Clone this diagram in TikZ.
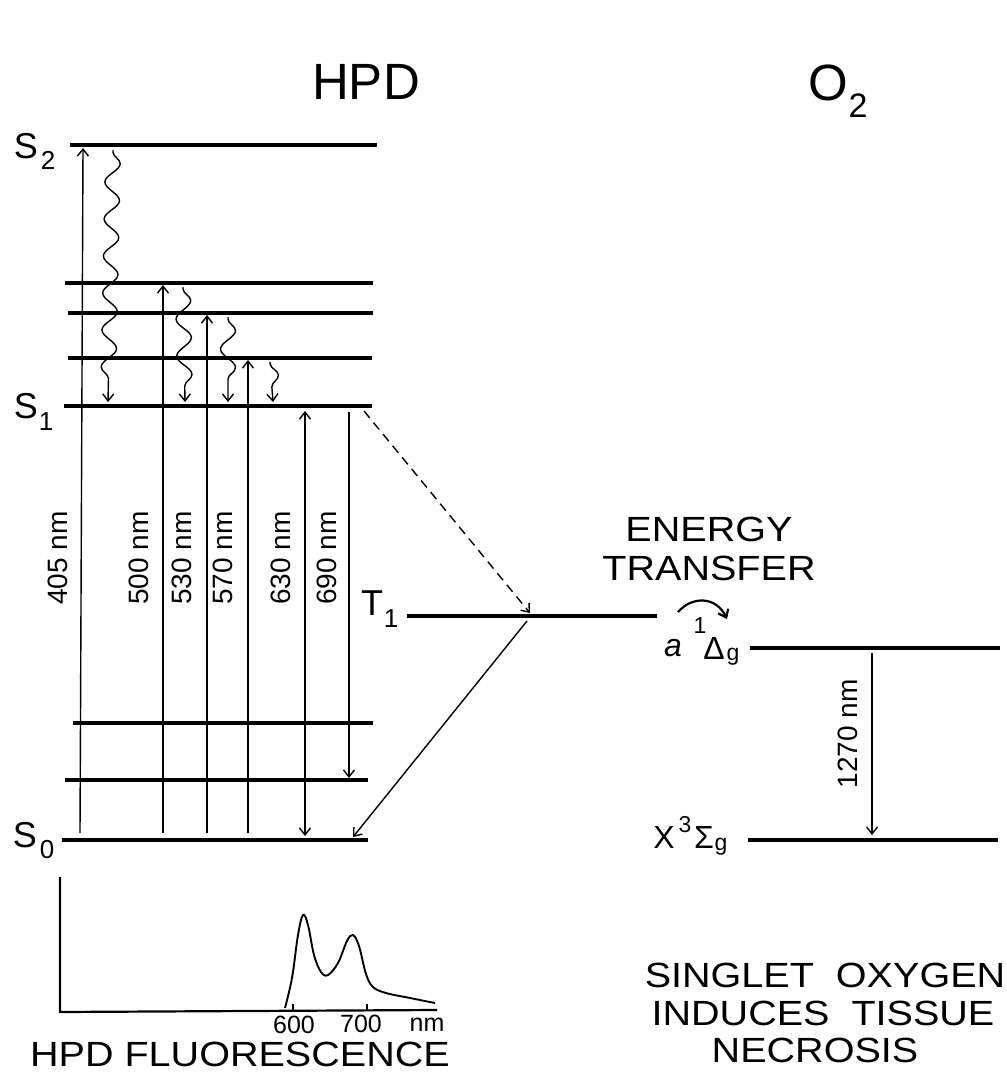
\documentclass[tikz,border=0pt]{standalone}
\usepackage{fontspec}
\usepackage{graphicx}
\setmainfont{Liberation Sans}
\usetikzlibrary{arrows.meta,decorations.pathmorphing}
\newcommand{\widetxt}[1]{\scalebox{1.13}[1]{#1}}
\begin{document}
\begin{tikzpicture}[x=1bp,y=-1bp,
  level/.style={line width=3.2bp},
  trans/.style={line width=1.4bp},
  >={Straight Barb[length=7bp,width=11bp]},
  wave/.style={line width=1.4bp, decorate, decoration={snake, segment length=37bp, amplitude=7.5bp, post length=7bp, pre length=2bp}},
  lab/.style={inner sep=0pt, font=\fontsize{36bp}{40bp}\selectfont},
  sublab/.style={inner sep=0pt, font=\fontsize{26bp}{28bp}\selectfont},
  nmlab/.style={inner sep=0pt, rotate=90, font=\fontsize{28bp}{32bp}\selectfont},
  titlelab/.style={inner sep=0pt, font=\fontsize{51bp}{56bp}\selectfont},
  caplab/.style={inner sep=0pt, font=\fontsize{35bp}{38bp}\selectfont},
  ticklab/.style={inner sep=0pt, anchor=base, font=\fontsize{25bp}{28bp}\selectfont},
  o2lab/.style={inner sep=0pt, font=\fontsize{32bp}{36bp}\selectfont},
  o2sub/.style={inner sep=0pt, font=\fontsize{23bp}{26bp}\selectfont},
]
\useasboundingbox[fill=white] (0,0) rectangle (1007,1072);

% ---- titles
\node[titlelab] (thpd) at (366,82) {HPD};
\node[titlelab] (to2) at (828,83) {O};
\node[inner sep=0pt, font=\fontsize{34bp}{36bp}\selectfont] (to2s) at (858,106) {2};

% ---- HPD levels
\coordinate (S2a) at (70,145);  \coordinate (S2b) at (377,145);
\coordinate (V3a) at (65,283);  \coordinate (V3b) at (373,283);
\coordinate (V2a) at (68,313);  \coordinate (V2b) at (373,313);
\coordinate (V1a) at (68,358);  \coordinate (V1b) at (372,358);
\coordinate (S1a) at (64,406);  \coordinate (S1b) at (372,406);
\coordinate (G2a) at (73,723);  \coordinate (G2b) at (373,723);
\coordinate (G1a) at (65,780);  \coordinate (G1b) at (368,780);
\coordinate (S0a) at (62,840);  \coordinate (S0b) at (368,840);
\coordinate (T1a) at (407,616); \coordinate (T1b) at (657,616);
\foreach \l in {S2,V3,V2,V1,S1,G2,G1,S0,T1} \draw[level] (\l a) -- (\l b);

% ---- O2 levels
\coordinate (Da) at (750,648);  \coordinate (Db) at (1000,648);
\coordinate (Xa) at (748,840);  \coordinate (Xb) at (998,840);
\draw[level] (Da) -- (Db);
\draw[level] (Xa) -- (Xb);

% ---- level labels
\node[lab] (ls2) at (26,146) {S};
\node[sublab] (ls2s) at (48,160) {2};
\node[lab] (ls1) at (26,406) {S};
\node[sublab] (ls1s) at (46,422) {1};
\node[lab] (ls0) at (25,835) {S};
\node[sublab] (ls0s) at (47,850) {0};
\node[lab] (lt1) at (372,603) {T};
\node[sublab] (lt1s) at (391,619) {1};

% a 1Delta_g
\node[o2lab] (lada) at (673,648) {\textit{a}};
\node[o2lab] (ladd) at (714,648) {Δ};
\node[o2sub] (lad1) at (700,626) {1};
\node[o2sub] (ladg) at (733,657) {g};
% X 3Sigma_g
\node[o2lab] (lxx) at (664,837) {X};
\node[o2sub] (lx3) at (685,825) {3};
\node[o2lab] (lxs) at (704,837) {Σ};
\node[o2sub] (lxg) at (721,847) {g};

% ---- absorption arrows
\coordinate (A405b) at (80,833);  \coordinate (A405t) at (83,148);
\coordinate (A500b) at (163,833); \coordinate (A500t) at (163,285);
\coordinate (A530b) at (207,833); \coordinate (A530t) at (207,315);
\coordinate (A570b) at (248,833); \coordinate (A570t) at (248,360);
\foreach \w in {405,500,530,570} \draw[trans,->] (A\w b) -- (A\w t);
\coordinate (A630t) at (305,411); \coordinate (A630b) at (305,836);
\draw[trans,<->] (A630t) -- (A630b);
\coordinate (A690t) at (349,412); \coordinate (A690b) at (349,778);
\draw[trans,->] (A690t) -- (A690b);

% ---- wavelength labels
\node[nmlab] (n405) at (58,558) {405 nm};
\node[nmlab] (n500) at (139,558) {500 nm};
\node[nmlab] (n530) at (182,558) {530 nm};
\node[nmlab] (n570) at (223,558) {570 nm};
\node[nmlab] (n630) at (281,558) {630 nm};
\node[nmlab] (n690) at (327,558) {690 nm};

% ---- vibrational relaxation (wavy)
\coordinate (W1t) at (113,150); \coordinate (W1b) at (108,402);
\coordinate (W2t) at (183,287); \coordinate (W2b) at (185,402);
\coordinate (W3t) at (228,317); \coordinate (W3b) at (228,402);
\coordinate (W4t) at (270,362); \coordinate (W4b) at (273,402);
\foreach \i in {1,2,3,4} \draw[wave,->] (W\i t) -- (W\i b);

% ---- intersystem crossing and phosphorescence
\coordinate (ISCs) at (364,411); \coordinate (ISCe) at (530,613);
\draw[trans,->,dash pattern=on 9bp off 6bp] (ISCs) -- (ISCe);
\coordinate (PHs) at (527,621); \coordinate (PHe) at (353,837);
\draw[trans,->] (PHs) -- (PHe);

% ---- energy transfer
\node[caplab, align=center] (etr) at (709,549) {\widetxt{ENERGY}\\[1bp]\widetxt{TRANSFER}};
\coordinate (ETs) at (678,612); \coordinate (ETe) at (727,619);
\draw[line width=2.2bp,->] (ETs) .. controls (692,596) and (716,596) .. (ETe);

% ---- 1270 nm
\coordinate (E1270t) at (872,653); \coordinate (E1270b) at (872,835);
\draw[trans,->] (E1270t) -- (E1270b);
\node[nmlab] (n1270) at (848,734) {1270 nm};

% ---- fluorescence spectrum
\coordinate (ax0) at (60,1012); \coordinate (axy) at (60,877); \coordinate (axx) at (437,1010);
\draw[line width=2.2bp] (axy) -- (ax0) -- (axx);
\coordinate (t6a) at (293,1011); \coordinate (t6b) at (293,1004);
\coordinate (t7a) at (367,1011); \coordinate (t7b) at (367,1004);
\draw[line width=1.3bp] (t6a) -- (t6b);
\draw[line width=1.3bp] (t7a) -- (t7b);
\draw[line width=1.9bp] plot[smooth, tension=0.6] coordinates {(285,1008) (292,978) (298,935) (303,915) (308,925) (314,955) (321,972) (328,975) (338,963) (347,941) (353,935) (359,946) (366,974) (373,987) (386,993) (410,998) (435,1003)};
\node[ticklab] (l600) at (294,1033) {600};
\node[ticklab] (l700) at (361,1032) {700};
\node[ticklab] (lnm) at (427,1031) {nm};
\node[caplab, anchor=base] (hpdf) at (240,1066) {\widetxt{HPD FLUORESCENCE}};

% ---- singlet oxygen text
\node[caplab] (so1) at (825,975) {\widetxt{SINGLET\ \ OXYGEN}};
\node[caplab] (so2) at (823,1013) {\widetxt{INDUCES\ \ TISSUE}};
\node[caplab] (so3) at (815,1050) {\widetxt{NECROSIS}};
\end{tikzpicture}
\end{document}
